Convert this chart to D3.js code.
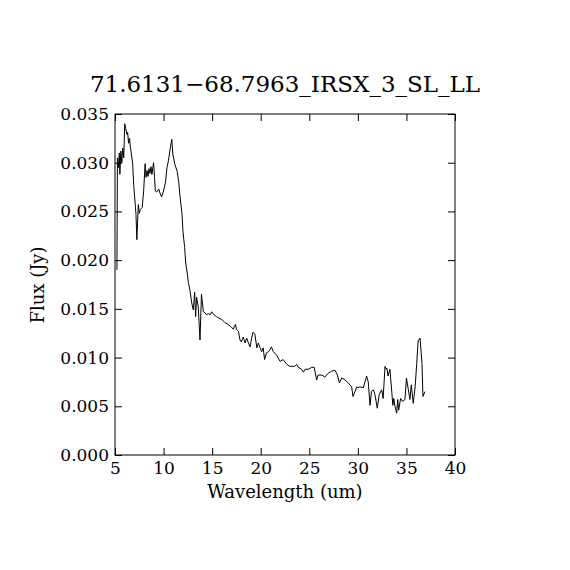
<!DOCTYPE html>
<html>
<head>
<meta charset="utf-8">
<script src="https://cdn.jsdelivr.net/npm/d3@7"></script>
<style>
  body { margin: 0; background: #fff; }
  svg text { font-family: "DejaVu Serif", "Liberation Serif", serif; fill: #000; }
</style>
</head>
<body>
<div id="chart"></div>
<script>
'use strict';

// spectrum
var wavelength = [5.2, 5.25, 5.35, 5.45, 5.5, 5.6, 5.7, 5.8, 5.9, 6.0, 6.1, 6.24, 6.3, 6.4, 6.5, 6.58, 6.7, 6.82, 6.92, 7.02, 7.1, 7.16, 7.25,
  7.4, 7.5, 7.6, 7.8, 7.95, 8.1, 8.2, 8.3, 8.4, 8.5, 8.6, 8.7, 8.8, 8.97, 9.07, 9.15, 9.3, 9.5, 9.66, 9.8, 10.0,
  10.2, 10.35, 10.5, 10.7, 10.85, 10.95, 11.15, 11.4, 11.55, 11.7, 11.9, 12.0, 12.17, 12.27, 12.48, 12.55, 12.7,
  12.9, 13.06, 13.2, 13.3, 13.4, 13.57, 13.75, 13.9, 14.1, 14.26, 14.4, 14.6, 14.8, 14.95, 15.1, 15.3, 15.47,
  15.6, 16.0, 16.3, 16.66, 17.0, 17.2, 17.27, 17.4, 17.5, 17.7, 17.87, 18.0, 18.2, 18.4, 18.55, 18.7, 18.9,
  19.07, 19.2, 19.4, 19.6, 19.75, 19.9, 20.1, 20.25, 20.4, 20.6, 20.8, 20.95, 21.1, 21.3, 21.6, 22.0, 22.3,
  22.7, 23.0, 23.5, 23.7, 23.87, 24.2, 24.4, 24.56, 24.9, 25.25, 25.5, 25.76, 25.9, 26.3, 26.6, 26.96, 27.3,
  27.65, 27.9, 28.1, 28.34, 28.7, 29.0, 29.36, 29.5, 29.7, 29.9, 30.0, 30.2, 30.56, 30.9, 31.07, 31.25, 31.4,
  31.6, 31.76, 32.0, 32.2, 32.45, 32.6, 32.8, 32.9, 33.0, 33.1, 33.3, 33.5, 33.6, 33.7, 33.8, 34.0, 34.1, 34.2,
  34.4, 34.6, 34.85, 35.0, 35.2, 35.36, 35.5, 35.7, 35.9, 36.06, 36.2, 36.4, 36.6, 36.7, 36.9];
var flux = [0.019, 0.0305, 0.0295, 0.031, 0.0288, 0.0312, 0.0300, 0.0315, 0.0305, 0.034, 0.0335, 0.0329, 0.0331, 0.032, 0.0325, 0.0316, 0.0308, 0.0299, 0.0278, 0.0265, 0.0255, 0.0247, 0.0221,
  0.0257, 0.0248, 0.0252, 0.0254, 0.0271, 0.0299, 0.0285, 0.0292, 0.0286, 0.0294, 0.0289, 0.0296, 0.0288, 0.0300, 0.0285, 0.0271, 0.0270, 0.0273, 0.0268, 0.0265, 0.0271,
  0.0280, 0.0295, 0.0302, 0.0316, 0.0324, 0.0309, 0.0299, 0.0291, 0.0281, 0.0265, 0.0247, 0.0229, 0.0213, 0.0198, 0.0183, 0.0177, 0.0170,
  0.0156, 0.0149, 0.0167, 0.0142, 0.0162, 0.0152, 0.0118, 0.0165, 0.0147, 0.0146, 0.0144, 0.0145, 0.0144, 0.0147, 0.0145, 0.0143, 0.0142,
  0.0141, 0.0139, 0.0136, 0.0134, 0.0131, 0.0129, 0.0132, 0.0134, 0.0129, 0.0127, 0.0118, 0.0116, 0.0121, 0.0115, 0.0120, 0.0116, 0.0111,
  0.0120, 0.0126, 0.0124, 0.0110, 0.0115, 0.0111, 0.0106, 0.0110, 0.0098, 0.0105, 0.0106, 0.0108, 0.0111, 0.0106, 0.0103, 0.0096, 0.0098,
  0.0093, 0.0091, 0.0091, 0.0093, 0.0090, 0.0088, 0.0085, 0.0088, 0.0088, 0.0090, 0.0090, 0.0077, 0.0082, 0.0082, 0.0080, 0.0084, 0.0086,
  0.0087, 0.0082, 0.0074, 0.0079, 0.0077, 0.0074, 0.0070, 0.0060, 0.0065, 0.0070, 0.0069, 0.0070, 0.0069, 0.0081, 0.0075, 0.0051, 0.0065,
  0.0067, 0.0062, 0.0048, 0.0062, 0.0067, 0.0058, 0.0091, 0.0088, 0.0089, 0.0081, 0.0088, 0.0064, 0.0051, 0.0058, 0.0051, 0.0043, 0.0057, 0.0046,
  0.0058, 0.0055, 0.0057, 0.0079, 0.0067, 0.0057, 0.0072, 0.0053, 0.0070, 0.0094, 0.0117, 0.0120, 0.0094, 0.0060, 0.0065];

var xTicks = [5, 10, 15, 20, 25, 30, 35, 40];
var yTicks = [0.000, 0.005, 0.010, 0.015, 0.020, 0.025, 0.030, 0.035];
var title = "71.6131\u221268.7963_IRSX_3_SL_LL";

var width = 570, height = 570;
var margin = {top: 114, right: 115, bottom: 115, left: 115};
var w = width - margin.left - margin.right;
var h = height - margin.top - margin.bottom;

var svg = d3.select('#chart').append('svg')
    .attr('width', width)
    .attr('height', height);

var g = svg.append('g')
    .attr('transform', 'translate(' + margin.left + ',' + margin.top + ')');

var x = d3.scaleLinear().domain([5, 40]).range([0, w]);
var y = d3.scaleLinear().domain([0, 0.035]).range([h, 0]);

// inward ticks on all four sides, labels only bottom and left
function styleAxis(sel){
    sel.select('.domain').remove();
    sel.selectAll('line').attr('stroke', '#000').attr('stroke-width', 1);
}
g.append('g').attr('transform', 'translate(0,' + h + ')')
    .call(d3.axisBottom(x).tickValues(xTicks).tickSize(-7).tickPadding(7).tickFormat(d3.format('d')))
    .call(styleAxis)
    .selectAll('text').style('font-size', '17px');
g.append('g')
    .call(d3.axisTop(x).tickValues(xTicks).tickSize(-7).tickFormat(''))
    .call(styleAxis);
g.append('g')
    .call(d3.axisLeft(y).tickValues(yTicks).tickSize(-7).tickPadding(6).tickFormat(d3.format('.3f')))
    .call(styleAxis)
    .selectAll('text').style('font-size', '17px');
g.append('g').attr('transform', 'translate(' + w + ',0)')
    .call(d3.axisRight(y).tickValues(yTicks).tickSize(-7).tickFormat(''))
    .call(styleAxis);

g.append('rect')
    .attr('width', w).attr('height', h)
    .attr('fill', 'none').attr('stroke', '#000').attr('stroke-width', 1);

var line = d3.line()
    .x(function(d, i){ return x(wavelength[i]); })
    .y(function(d){ return y(d); });

g.append('path')
    .datum(flux)
    .attr('d', line)
    .attr('fill', 'none')
    .attr('stroke', '#000')
    .attr('stroke-width', 1);

svg.append('text')
    .attr('x', 285).attr('y', 92)
    .attr('text-anchor', 'middle')
    .style('font-size', '23px')
    .text(title);

svg.append('text')
    .attr('x', 285).attr('y', 498)
    .attr('text-anchor', 'middle')
    .style('font-size', '18px')
    .text('Wavelength (um)');

svg.append('text')
    .attr('transform', 'translate(44,285) rotate(-90)')
    .attr('text-anchor', 'middle')
    .style('font-size', '18px')
    .text('Flux (Jy)');
</script>
</body>
</html>
